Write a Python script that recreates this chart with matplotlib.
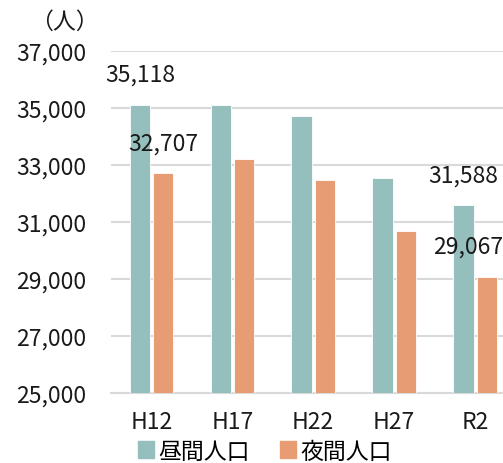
import matplotlib.pyplot as plt
from matplotlib.patches import Patch
import numpy as np

plt.rcParams['font.family'] = ['Noto Sans CJK JP', 'DejaVu Sans']

years = ['H12', 'H17', 'H22', 'H27', 'R2']
day_pop = [35118, 35120, 34730, 32530, 31588]
night_pop = [32707, 33220, 32480, 30680, 29067]
yticks = [25000, 27000, 29000, 31000, 33000, 35000, 37000]

day_color = '#95BFBC'
night_color = '#E89C73'
fs = 16.5

fig = plt.figure(figsize=(5.03, 4.64), dpi=100)
ax = fig.add_axes([111 / 503, 1 - 394 / 464, 404.5 / 503, 342 / 464])

x = np.arange(len(years))
w = 0.25
ax.bar(x - 0.019 - w / 2, day_pop, w, color=day_color, edgecolor='white', linewidth=0.6, zorder=3)
ax.bar(x + 0.019 + w / 2, night_pop, w, color=night_color, edgecolor='white', linewidth=0.6, zorder=3)

ax.set_xlim(-0.5, 4.5)
ax.set_ylim(25000, 37000)
ax.set_yticks(yticks)
ax.set_yticklabels(['{:,}'.format(v) for v in yticks], fontsize=fs, color='#1a1a1a')
ax.set_xticks(x)
ax.set_xticklabels(years, fontsize=fs, color='#1a1a1a')
ax.tick_params(axis='both', length=0)
ax.tick_params(axis='y', pad=18)
ax.tick_params(axis='x', pad=12)
ax.grid(axis='y', color='#d9d9d9', linewidth=1.5, zorder=0)
for s in ['top', 'right', 'left']:
    ax.spines[s].set_visible(False)
ax.spines['bottom'].set_color('#d9d9d9')
ax.spines['bottom'].set_linewidth(1.5)

# value labels only on first and last year
for i in [0, 4]:
    ax.annotate('{:,}'.format(day_pop[i]), (x[i] - 0.019 - w / 2, day_pop[i]),
                xytext=(0, 22), textcoords='offset points', ha='center', va='center',
                fontsize=fs, color='#1a1a1a', zorder=4)
ax.annotate('{:,}'.format(night_pop[0]), (x[0] + 0.019 + w / 2, night_pop[0]),
            xytext=(0, 22), textcoords='offset points', ha='center', va='center',
            fontsize=fs, color='#1a1a1a', zorder=4)
ax.annotate('{:,}'.format(night_pop[4]), (x[4] + 0.019 + w / 2, night_pop[4]),
            xytext=(-13, 22), textcoords='offset points', ha='center', va='center',
            fontsize=fs, color='#1a1a1a', zorder=4)

fig.text(64 / 503, 1 - 22 / 464, '（人）', fontsize=fs, ha='center', va='center', color='#1a1a1a')

handles = [Patch(color=day_color, label='昼間人口'), Patch(color=night_color, label='夜間人口')]
fig.legend(handles=handles, loc='center', bbox_to_anchor=(265 / 503, 1 - 452 / 464), ncol=2,
           frameon=False, fontsize=fs, handlelength=0.7, handleheight=0.7, handletextpad=0.2,
           columnspacing=1.3, borderpad=0)

fig.savefig('out.png', dpi=100)
